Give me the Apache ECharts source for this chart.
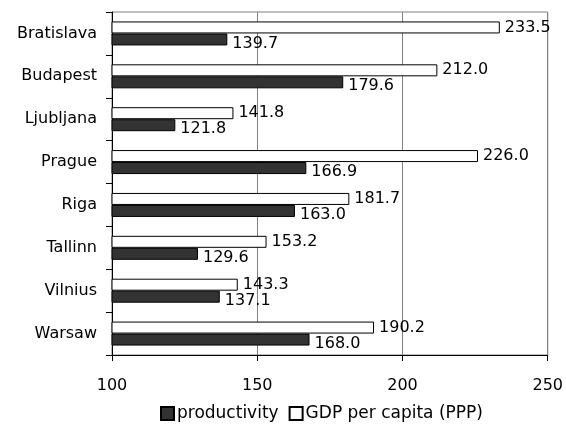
<!DOCTYPE html>
<html>
<head>
<meta charset="utf-8">
<script src="https://cdn.jsdelivr.net/npm/echarts@6/dist/echarts.min.js"></script>
<style>html,body{margin:0;padding:0;background:#fff}#c{width:566px;height:426px}</style>
</head>
<body>
<div id="c"></div>
<script>
const cities = ['Bratislava','Budapest','Ljubljana','Prague','Riga','Tallinn','Vilnius','Warsaw'];
const productivity = [139.7,179.6,121.8,166.9,163.0,129.6,137.1,168.0];
const gdpPerCapita = [233.5,212.0,141.8,226.0,181.7,153.2,143.3,190.2];
const xTicks = {min:100, max:250, interval:50};

const font = '"DejaVu Sans", sans-serif';
const chart = echarts.init(document.getElementById('c'), null, {renderer:'canvas'});
chart.setOption({
  animation:false,
  backgroundColor:'#fff',
  textStyle:{fontFamily:font},
  grid:{left:112, right:17, top:12, bottom:71, show:true, borderColor:'#808080', borderWidth:1, backgroundColor:'transparent'},
  legend:{
    top:405, left:160, itemWidth:13, itemHeight:13, itemGap:10, padding:0,
    icon:'rect',
    data:['productivity','GDP per capita (PPP)'],
    textStyle:{fontSize:17, color:'#000', fontFamily:font, padding:[0,0,0,-2]}
  },
  xAxis:{
    type:'value', min:xTicks.min, max:xTicks.max, interval:xTicks.interval,
    axisLine:{show:true, lineStyle:{color:'#000', width:1}},
    axisTick:{show:true, length:6, lineStyle:{color:'#000'}},
    axisLabel:{fontSize:16, color:'#000', margin:23, fontFamily:font},
    splitLine:{show:true, lineStyle:{color:'#808080', width:1}}
  },
  yAxis:{
    type:'category', data:cities, inverse:true,
    axisLine:{show:true, lineStyle:{color:'#000', width:1}},
    axisTick:{show:true, length:6, lineStyle:{color:'#000'}},
    axisLabel:{fontSize:16, color:'#000', margin:15, fontFamily:font},
    splitLine:{show:false}
  },
  series:[
    {
      name:'GDP per capita (PPP)', type:'bar', data:gdpPerCapita,
      barWidth:12, barGap:'0%',
      itemStyle:{color:'#fff', borderColor:'#000', borderWidth:1},
      label:{show:true, position:'right', distance:5, fontSize:16, color:'#000', fontFamily:font,
        formatter:p=>p.value.toFixed(1)}
    },
    {
      name:'productivity', type:'bar', data:productivity,
      barWidth:12, barGap:'0%',
      itemStyle:{color:'#333333', borderColor:'#000', borderWidth:1},
      label:{show:true, position:'right', distance:5, offset:[0,4], fontSize:16, color:'#000', fontFamily:font,
        formatter:p=>p.value.toFixed(1)}
    }
  ]
});
</script>
</body>
</html>
